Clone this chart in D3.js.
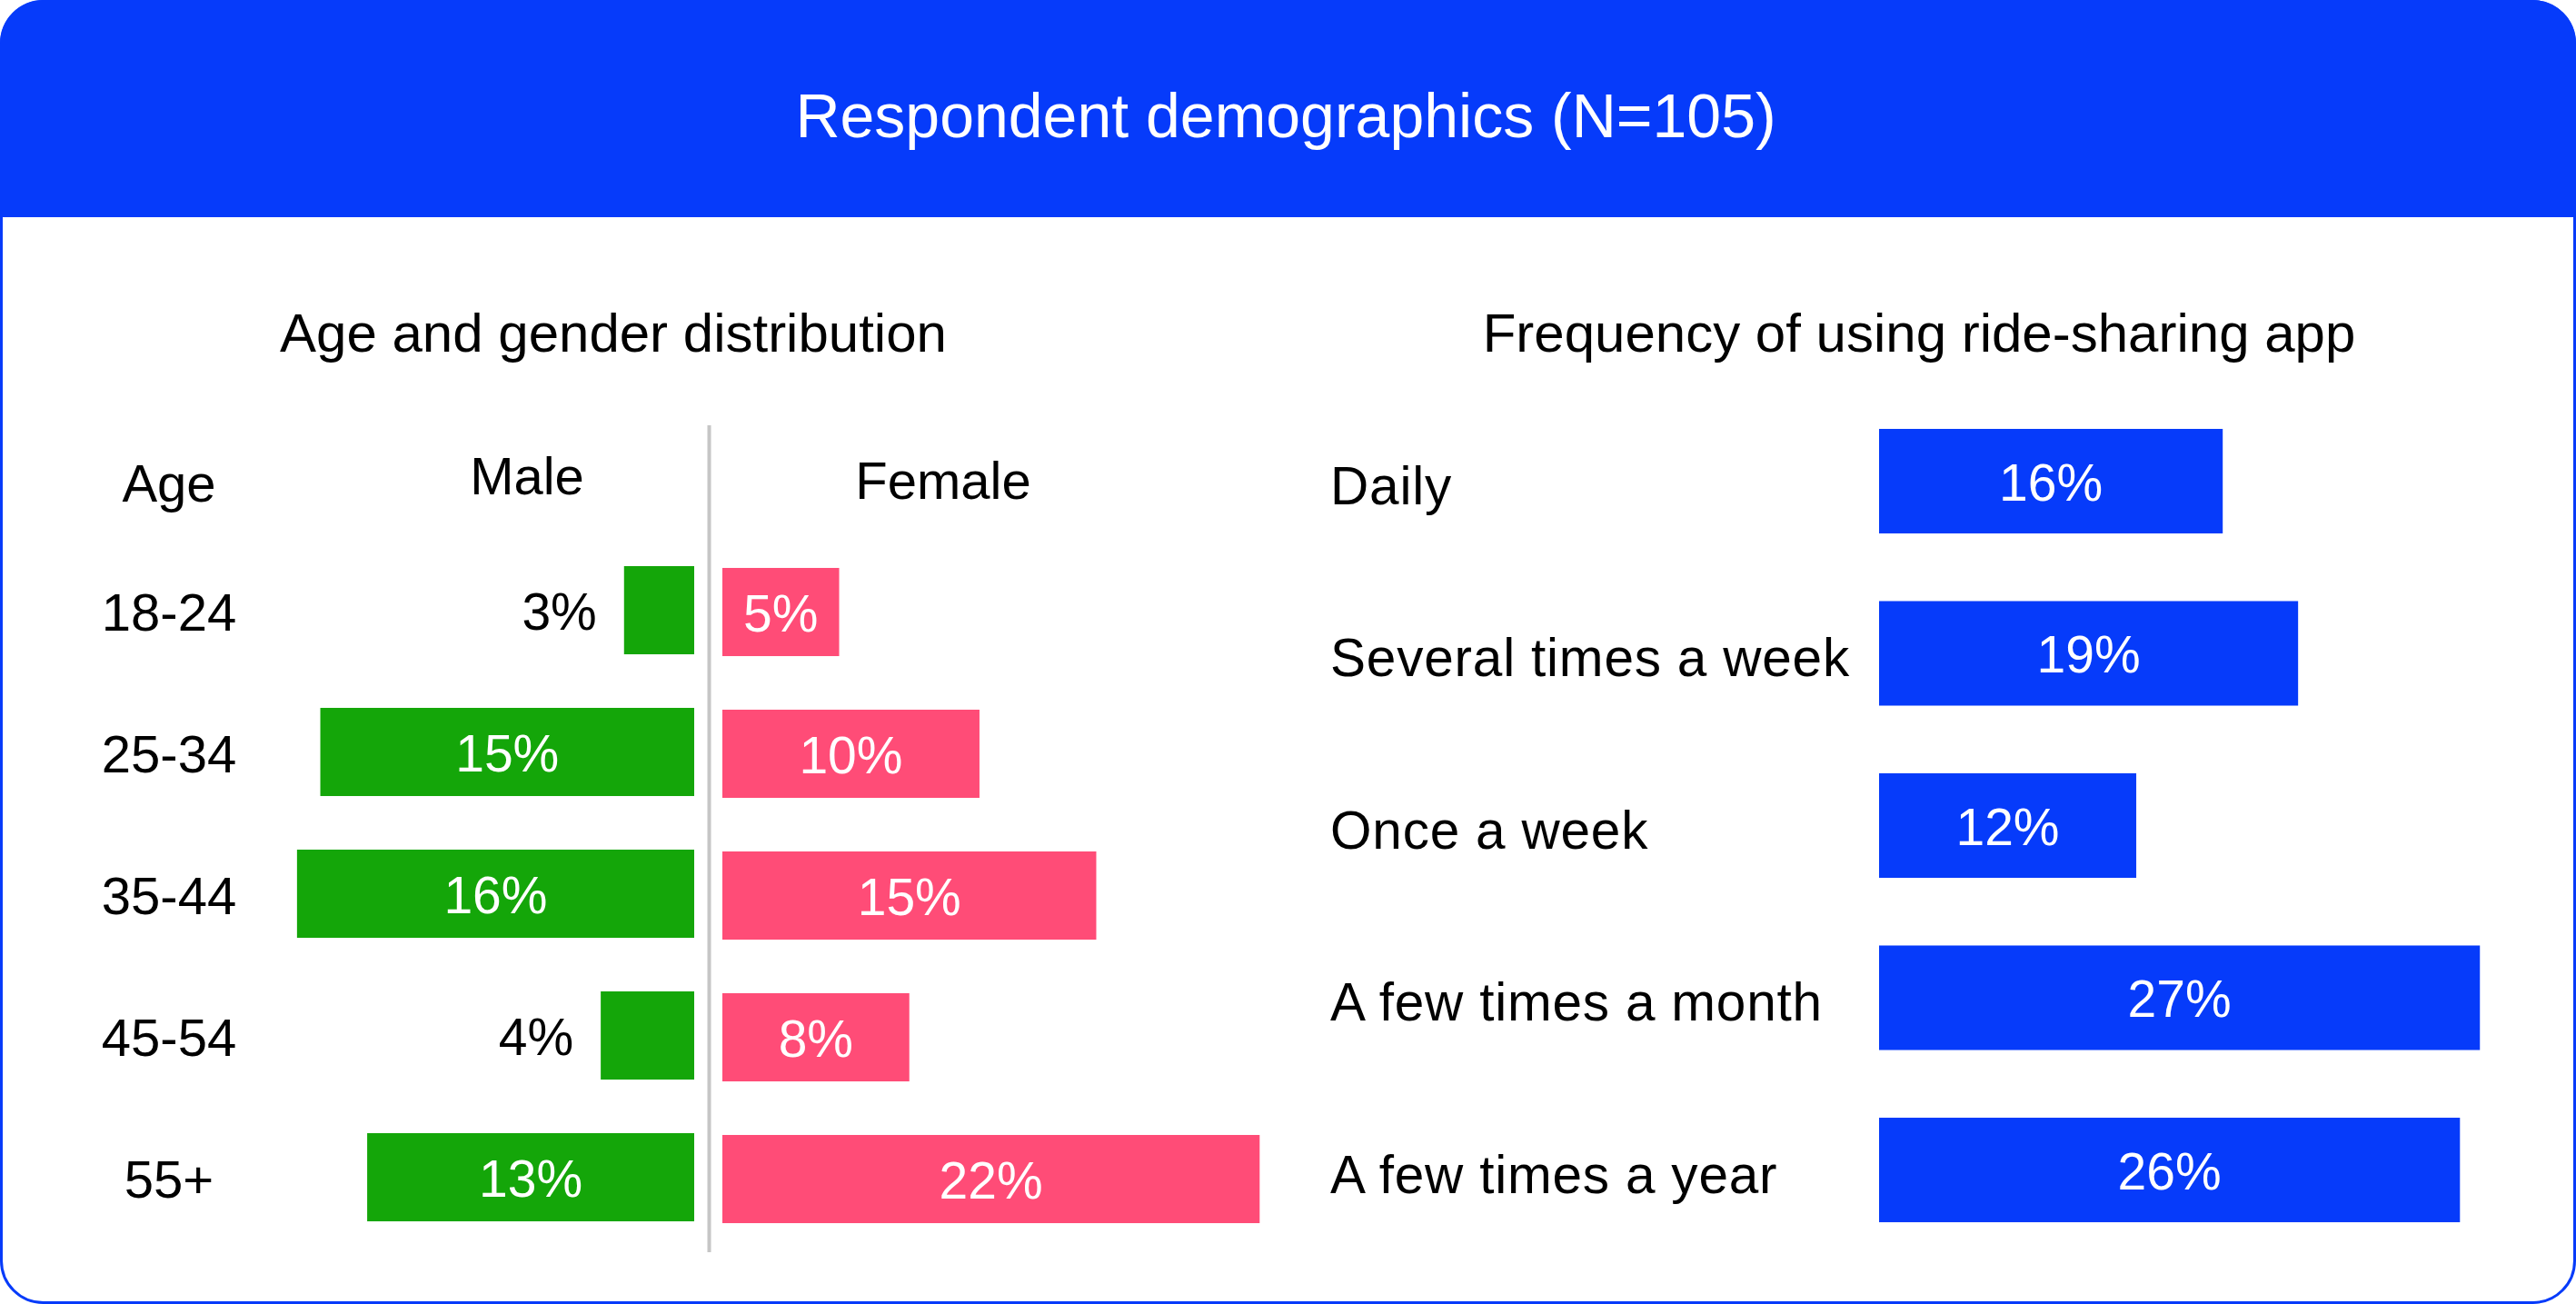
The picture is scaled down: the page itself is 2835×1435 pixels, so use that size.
<!DOCTYPE html>
<html>
<head>
<meta charset="utf-8">
<script src="https://cdn.jsdelivr.net/npm/d3@7"></script>
<style>
  html, body { margin: 0; padding: 0; background: #ffffff; }
  svg { display: block; }
  text { font-family: "Liberation Sans", Arial, Helvetica, sans-serif; }
</style>
</head>
<body>
<script>
// ---------------- DATA ----------------
const title = "Respondent demographics (N=105)";
const leftTitle = "Age and gender distribution";
const rightTitle = "Frequency of using ride-sharing app";

const ageGroups = ["18-24", "25-34", "35-44", "45-54", "55+"];
const maleValues = [2.86, 15.24, 16.19, 3.81, 13.33];
const femaleValues = [4.76, 10.48, 15.24, 7.62, 21.9];

const freqCategories = ["Daily", "Several times a week", "Once a week", "A few times a month", "A few times a year"];
const freqValues = [15.5, 18.9, 11.6, 27.1, 26.2];

// ---------------- STYLE ----------------
const W = 2835, H = 1435;
const BLUE = "#063BFA", GREEN = "#14A609", PINK = "#FF4C77", GREY = "#C6C6C6";
const FS = 58, VFS = 57;

const svg = d3.select("body").append("svg").attr("width", W).attr("height", H);

// card with rounded border and blue header
const R = 48;
svg.append("defs").append("clipPath").attr("id", "card")
  .append("rect").attr("x", 0).attr("y", 0).attr("width", W).attr("height", H).attr("rx", R).attr("ry", R);
svg.append("rect").attr("x", 1.5).attr("y", 1.5).attr("width", W - 3).attr("height", H - 3)
  .attr("rx", R - 2).attr("ry", R - 2).attr("fill", "#fff").attr("stroke", BLUE).attr("stroke-width", 3);
svg.append("rect").attr("clip-path", "url(#card)").attr("x", 0).attr("y", 0).attr("width", W).attr("height", 239).attr("fill", BLUE);

svg.append("text").attr("x", 1415).attr("y", 151).attr("text-anchor", "middle")
  .attr("fill", "#fff").attr("font-size", 68).text(title);

// ---------------- LEFT: age & gender ----------------
svg.append("text").attr("x", 675).attr("y", 387).attr("text-anchor", "middle")
  .attr("font-size", 60).attr("fill", "#000").text(leftTitle);

const yL = d3.scaleBand().domain(ageGroups).range([593.5, 1373.5]).paddingInner(0.378).paddingOuter(0.189);
const xL = d3.scaleLinear().domain([0, 20]).range([0, 540]);
const centerM = 764, centerF = 795;

svg.append("line").attr("x1", 780.5).attr("x2", 780.5).attr("y1", 468).attr("y2", 1378)
  .attr("stroke", GREY).attr("stroke-width", 4);

svg.append("text").attr("x", 186).attr("y", 552).attr("text-anchor", "middle").attr("font-size", FS).text("Age");
svg.append("text").attr("x", 580).attr("y", 544).attr("text-anchor", "middle").attr("font-size", FS).text("Male");
svg.append("text").attr("x", 1038).attr("y", 549).attr("text-anchor", "middle").attr("font-size", FS).text("Female");

const gL = svg.append("g");
gL.selectAll(".age").data(ageGroups).join("text")
  .attr("x", 186).attr("y", d => yL(d) + yL.bandwidth() / 2 + 22)
  .attr("text-anchor", "middle").attr("font-size", FS).attr("fill", "#000").text(d => d);

const male = ageGroups.map((a, i) => ({ a, v: maleValues[i] }));
const female = ageGroups.map((a, i) => ({ a, v: femaleValues[i] }));

gL.selectAll(".m").data(male).join("rect")
  .attr("x", d => centerM - xL(d.v)).attr("y", d => yL(d.a))
  .attr("width", d => xL(d.v)).attr("height", yL.bandwidth()).attr("fill", GREEN);
gL.selectAll(".ml").data(male).join("text")
  .attr("x", d => xL(d.v) < 110 ? centerM - xL(d.v) - 30 : centerM - xL(d.v) / 2)
  .attr("y", d => yL(d.a) + yL.bandwidth() / 2 + 21)
  .attr("text-anchor", d => xL(d.v) < 110 ? "end" : "middle")
  .attr("fill", d => xL(d.v) < 110 ? "#000" : "#fff")
  .attr("font-size", VFS).text(d => Math.round(d.v) + "%");

gL.selectAll(".f").data(female).join("rect")
  .attr("x", centerF).attr("y", d => yL(d.a) + 2)
  .attr("width", d => xL(d.v)).attr("height", yL.bandwidth()).attr("fill", PINK);
gL.selectAll(".fl").data(female).join("text")
  .attr("x", d => centerF + xL(d.v) / 2)
  .attr("y", d => yL(d.a) + yL.bandwidth() / 2 + 23)
  .attr("text-anchor", "middle").attr("fill", "#fff")
  .attr("font-size", VFS).text(d => Math.round(d.v) + "%");

// ---------------- RIGHT: frequency ----------------
svg.append("text").attr("x", 2112).attr("y", 387).attr("text-anchor", "middle")
  .attr("font-size", 60).attr("fill", "#000").text(rightTitle);

const yR = d3.scaleBand().domain(freqCategories).range([434.75, 1382.25]).paddingInner(0.393).paddingOuter(0.1965);
const xR = d3.scaleLinear().domain([0, 30]).range([2068, 2068 + 732]);
const freq = freqCategories.map((c, i) => ({ c, v: freqValues[i] }));

const gR = svg.append("g");
gR.selectAll(".cat").data(freq).join("text")
  .attr("x", 1464).attr("y", d => yR(d.c) + yR.bandwidth() / 2 + 25)
  .attr("font-size", 58.5).attr("letter-spacing", 0.8).attr("fill", "#000").text(d => d.c);
gR.selectAll(".bar").data(freq).join("rect")
  .attr("x", xR(0)).attr("y", d => yR(d.c))
  .attr("width", d => xR(d.v) - xR(0)).attr("height", yR.bandwidth()).attr("fill", BLUE);
gR.selectAll(".val").data(freq).join("text")
  .attr("x", d => (xR(0) + xR(d.v)) / 2).attr("y", d => yR(d.c) + yR.bandwidth() / 2 + 21)
  .attr("text-anchor", "middle").attr("fill", "#fff").attr("font-size", VFS)
  .text(d => Math.round(d.v) + "%");
</script>
</body>
</html>
